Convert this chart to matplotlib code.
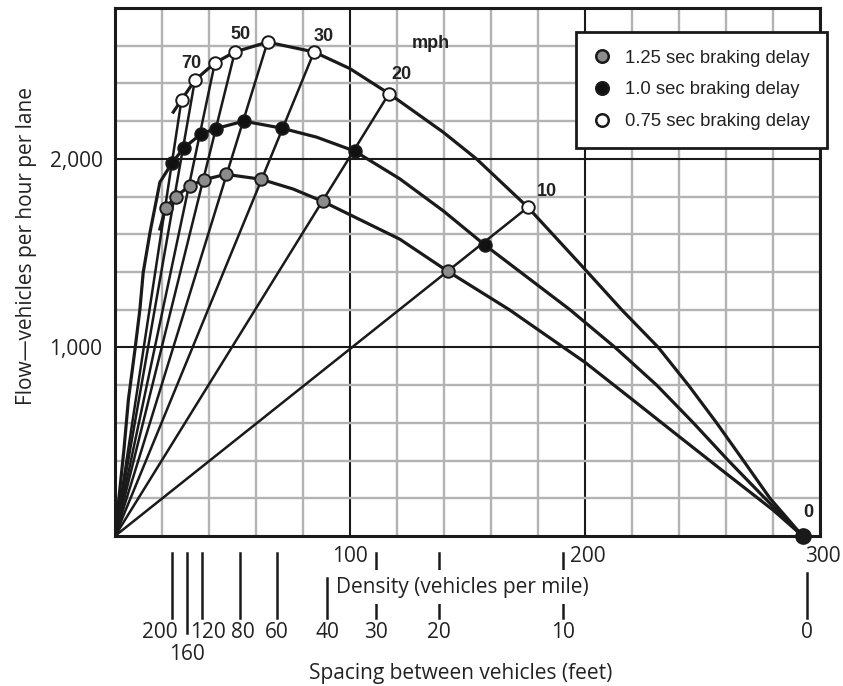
import matplotlib
matplotlib.use('Agg')
import matplotlib.pyplot as plt
from matplotlib.lines import Line2D
from matplotlib.transforms import blended_transform_factory, offset_copy

# speeds (mph) for the marked points along each curve
speeds = [80, 70, 60, 50, 40, 30, 20, 10, 0]

# 1.25 sec braking delay (grey points)
gray_density = [21.6, 25.8, 31.9, 38.0, 47.2, 62.1, 88.3, 141.7, 292.6]
gray_flow = [1741, 1799, 1858, 1890, 1918, 1892, 1775, 1403, 0]
# 1.0 sec braking delay (black points)
black_density = [24.2, 29.2, 36.7, 42.8, 54.8, 70.9, 102.0, 157.3, 292.6]
black_flow = [1977, 2057, 2133, 2160, 2200, 2163, 2041, 1544, 0]
# 0.75 sec braking delay (white points)
white_density = [28.3, 34.0, 42.5, 51.0, 64.9, 84.7, 116.6, 175.7, 292.6]
white_flow = [2313, 2417, 2509, 2567, 2619, 2567, 2346, 1743, 0]

# extra points read along the curves between the markers
gray_extra_d = [19.1, 75.8, 121.2, 167.8, 200.0, 220.3, 240.4, 260.0, 280.1]
gray_extra_f = [1628, 1840, 1574, 1200, 921, 722, 524, 332, 137]
black_extra_d = [0, 3.8, 5.7, 8.5, 10.6, 12.0, 14.9, 19.1, 85.8, 121.2, 139.6,
                 193.6, 212.8, 230.5, 246.1, 261.0, 276.6]
black_extra_f = [0, 457, 723, 989, 1202, 1397, 1610, 1876, 2115, 1894, 1725,
                 1200, 1000, 800, 600, 400, 200]
white_extra_d = [24.8, 99.9, 139.6, 153.8, 200.0, 215.6, 231.2, 244.0, 256.0, 267.4, 278.7]
white_extra_f = [2248, 2479, 2142, 2000, 1414, 1200, 1000, 800, 600, 400, 200]

# speed labels
speed_labels = ['70', '50', '30', '20', 'mph', '10', '0']
speed_label_d = [32.6, 53.2, 88.6, 121.9, 134.6, 183.6, 295.2]
speed_label_f = [2508, 2659, 2650, 2449, 2614, 1829, 123]

# density axis labels
density_ticks = [100, 200, 300]

# second scale under the density axis
spacing_ft = ['200', '160', '120', '80', '60', '40', '30', '20', '10', '0']
spacing_density = [24.1, 30.6, 36.9, 53.1, 68.8, 90.4, 111.0, 137.8, 190.5, 294.6]

legend_labels = ['1.25 sec braking delay', '1.0 sec braking delay', '0.75 sec braking delay']
marker_colors = ['#8c8c8c', '#111111', 'white']

label_font = 'Open Sans'
mark_font = 'Liberation Sans'
LS = 15
INK = '#1a1a1a'

fig = plt.figure(figsize=(8.43, 6.86), dpi=100)
W, H = 843, 686
ax = fig.add_axes([115 / W, 1 - 536 / H, 705 / W, 528 / H])
ax.set_xlim(0, 300)
ax.set_ylim(0, 2800)

# grid
ax.set_xticks([100, 200, 300])
ax.set_xticks(range(20, 300, 20), minor=True)
ax.set_yticks([1000, 2000])
ax.set_yticks(range(200, 2800, 200), minor=True)
ax.grid(True, which='minor', color='#b3b3b3', linewidth=1.7, zorder=0)
ax.grid(True, which='major', color=INK, linewidth=1.5, zorder=0.5)
ax.set_axisbelow(True)
ax.set_xticklabels([])
ax.set_yticklabels(['1,000', '2,000'], fontfamily=label_font, fontsize=LS, color='#222222')
ax.tick_params(which='both', length=0)
ax.tick_params(axis='y', pad=9)
for s in ax.spines.values():
    s.set_linewidth(2.2)
    s.set_color(INK)

# speed rays from the origin
for d, f, v in zip(white_density, white_flow, speeds):
    if v > 0:
        ax.plot([0, d], [0, f], color=INK, linewidth=1.8, zorder=2, solid_capstyle='round')

# flow-density curves
for dens, flow, ed, ef in [(gray_density, gray_flow, gray_extra_d, gray_extra_f),
                           (black_density, black_flow, black_extra_d, black_extra_f),
                           (white_density, white_flow, white_extra_d, white_extra_f)]:
    pts = sorted(zip(list(dens) + ed, list(flow) + ef))
    ax.plot([p[0] for p in pts], [p[1] for p in pts], color=INK, linewidth=2.3,
            zorder=3, solid_joinstyle='round')

# markers
for dens, flow, c in [(gray_density, gray_flow, marker_colors[0]),
                      (black_density, black_flow, marker_colors[1]),
                      (white_density, white_flow, marker_colors[2])]:
    ax.plot(dens[:-1], flow[:-1], linestyle='none', marker='o', markersize=9,
            markerfacecolor=c, markeredgecolor=INK, markeredgewidth=1.4, zorder=4)
ax.plot(black_density[-1], black_flow[-1], marker='o', markersize=11, color=INK,
        zorder=5, clip_on=False)

for t, d, f in zip(speed_labels, speed_label_d, speed_label_f):
    ax.text(d, f, t, fontfamily=mark_font, fontweight='bold', fontsize=13,
            ha='center', va='center', color='#222222', zorder=6)

# legend
handles = [Line2D([], [], linestyle='none', marker='o', markersize=9, markerfacecolor=c,
                  markeredgecolor=INK, markeredgewidth=1.8) for c in marker_colors]
leg = fig.legend(handles, legend_labels, loc='upper left', bbox_to_anchor=(575.7 / W, 1 - 32.3 / H),
                 prop={'family': mark_font, 'size': 13.3}, frameon=True, fancybox=False,
                 framealpha=1, edgecolor=INK, borderpad=0.95, handlelength=1.0,
                 handletextpad=0.72, labelspacing=0.79, borderaxespad=0)
leg.get_frame().set_linewidth(2.0)
leg.set_zorder(10)
for t in leg.get_texts():
    t.set_color('#222222')

tr = blended_transform_factory(ax.transData, ax.transAxes)


def ay(py):
    return (536 - py) / 528


# density tick labels
for i, v in enumerate(density_ticks):
    dx = [0, 3, 3][i]
    ax.text(v, ay(557), str(v), transform=offset_copy(tr, fig=fig, x=dx, y=0, units='dots'),
            ha='center', va='center', fontfamily=label_font, fontsize=LS, color='#222222',
            clip_on=False)

# spacing scale
for lab, d in zip(spacing_ft, spacing_density):
    top = 553
    bot = 618
    z = 4
    if lab == '160':
        bot = 633
    if lab == '40':
        top = 578
    if lab == '0':
        top = 573
    if lab in ('30', '20', '10'):
        z = 1
    ax.plot([d, d], [ay(top), ay(bot)], transform=tr, color=INK, linewidth=1.8,
            clip_on=False, zorder=z)
    dx = 0
    ty = ay(632)
    if lab == '200':
        dx = -12
    if lab == '120':
        dx = 6
    if lab == '80':
        dx = 3
    if lab == '160':
        ty = ay(655)
    ax.text(d, ty, lab, transform=offset_copy(tr, fig=fig, x=dx, y=0, units='dots'),
            ha='center', va='center', fontfamily=label_font, fontsize=LS, color='#222222')

ax.text(0.493, ay(587), 'Density (vehicles per mile)', transform=ax.transAxes, ha='center',
        va='center', fontfamily=label_font, fontsize=LS, color='#222222', zorder=3,
        bbox=dict(facecolor='white', edgecolor='none', pad=5))
ax.text(0.49, ay(673), 'Spacing between vehicles (feet)', transform=ax.transAxes, ha='center',
        va='center', fontfamily=label_font, fontsize=LS, color='#222222')
fig.text(27 / W, 1 - 246 / H, 'Flow\u2014vehicles per hour per lane', rotation=90, ha='center',
         va='center', fontfamily=label_font, fontsize=LS, color='#222222')

fig.savefig('out.png', dpi=100)
